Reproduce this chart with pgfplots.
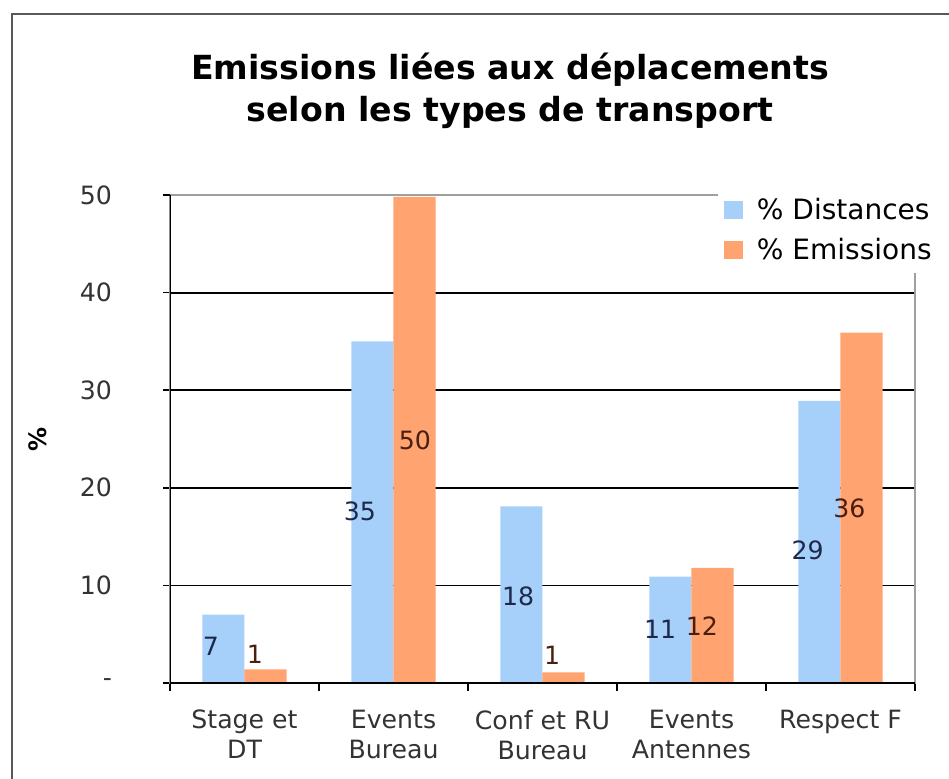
\documentclass[border=0pt]{standalone}
\usepackage{pgfplots}
\pgfplotsset{compat=1.18}
\usepackage{fontspec}
\setmainfont{DejaVu Sans}
\definecolor{barblue}{RGB}{166,208,250}
\definecolor{barorange}{RGB}{255,163,112}
\definecolor{lblblue}{RGB}{30,40,75}
\definecolor{lblorange}{RGB}{75,30,15}
\begin{document}
\begin{tikzpicture}
\useasboundingbox (-85pt,-47.5pt) rectangle (389.5pt,341.5pt);
\draw[line width=1pt, black!65] (-79pt,-60pt) -- (-79pt,334.5pt) -- (400pt,334.5pt);
\node[align=center, font=\bfseries\fontsize{16.6}{21}\selectfont] at (170pt,296pt)
  {Emissions liées aux déplacements\\selon les types de transport};
\begin{axis}[
  scale only axis, width=372.5pt, height=244pt,
  at={(0,0)}, anchor=south west,
  xmin=-0.5, xmax=4.5, ymin=0, ymax=50,
  /pgf/number format/assume math mode=true,
  axis line style={draw=gray!75, line width=0.6pt},
  ytick={0,10,20,30,40}, yticklabels={-\hspace{17pt},10,20,30,40},
  extra y ticks={50}, extra y tick labels={50}, extra y tick style={grid=none},
  ymajorgrids, grid style={black, line width=0.9pt},
  xtick={0,1,2,3,4},
  xticklabels={{Stage et\\DT},{Events\\Bureau},{Conf et RU\\Bureau},{Events\\Antennes},{Respect F}},
  minor xtick={-0.5,0.5,1.5,2.5,3.5,4.5},
  tick pos=left, tick align=outside,
  major tick length=3.5pt, minor tick length=4pt,
  tick style={black, line width=0.8pt},
  major x tick style={draw=none},
  minor x tick style={black, line width=0.8pt},
  xticklabel style={align=center, font=\fontsize{12.6}{15}\selectfont, text=black!80, yshift=-6.5pt},
  yticklabel style={font=\fontsize{12.6}{15}\selectfont, text=black!80, xshift=-22pt},
  ylabel={\%}, ylabel style={font=\bfseries\fontsize{12}{14}\selectfont, at={(axis description cs:-0.177,0.5)}, anchor=center},
  legend style={at={(0.735,1.015)}, anchor=north west, draw=none, fill=white,
    font=\fontsize{14}{16}\selectfont, row sep=4pt, column sep=5pt, inner sep=3pt},
  legend cell align=left,
  legend image code/.code={\fill[#1, draw=none] (0pt,-4.5pt) rectangle (9.5pt,4.5pt);},
]
\addplot[ybar, bar width=0.282, bar shift=-0.141, fill=barblue, draw=none]
  coordinates {(0,7.0) (1,35.0) (2,18.1) (3,10.9) (4,28.9)};
\addlegendentry{\% Distances}
\addplot[ybar, bar width=0.282, bar shift=0.141, fill=barorange, draw=none]
  coordinates {(0,1.4) (1,49.8) (2,1.1) (3,11.8) (4,35.9)};
\addlegendentry{\% Emissions}
\addplot[draw=none, mark=none, forget plot, nodes near coords, point meta=explicit symbolic,
  nodes near coords style={anchor=center, text=lblblue, font=\fontsize{12.6}{14}\selectfont}]
  coordinates {(-0.225,3.8)[7] (0.775,17.6)[35] (1.836,8.9)[18] (2.789,5.5)[11] (3.78,13.6)[29]};
\addplot[draw=none, mark=none, forget plot, nodes near coords, point meta=explicit symbolic,
  nodes near coords style={anchor=center, text=lblorange, font=\fontsize{12.6}{14}\selectfont}]
  coordinates {(0.07,2.9)[1] (1.144,24.9)[50] (2.064,2.8)[1] (3.07,5.8)[12] (4.06,17.9)[36]};
\draw[black, line width=1pt] (rel axis cs:0,1) -- (rel axis cs:0,0) -- (rel axis cs:1,0);
\end{axis}
\end{tikzpicture}
\end{document}
